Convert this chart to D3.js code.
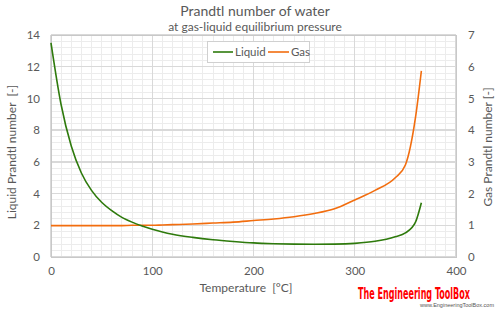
<!DOCTYPE html>
<html><head><meta charset="utf-8">
<script src="https://cdn.jsdelivr.net/npm/d3@7"></script>
<style>body{margin:0;background:#fff}svg{display:block}text{white-space:pre}</style>
</head><body>
<script>
const temps   = [0.01,10,20,30,40,50,60,70,80,90,100,110,120,140,160,180,200,220,240,260,280,300,320,340,350,360,365.8];
const liquidPr = [13.5,9.6,7.0,5.3,4.2,3.45,2.92,2.5,2.2,1.96,1.75,1.58,1.44,1.24,1.09,0.98,0.89,0.84,0.81,0.80,0.81,0.86,0.99,1.28,1.52,2.2,3.42];
const gasPr    = [0.99,0.99,0.99,0.99,0.99,0.99,0.99,0.99,1.0,1.0,1.0,1.01,1.02,1.04,1.07,1.1,1.15,1.2,1.27,1.37,1.52,1.8,2.1,2.5,2.9,4.4,5.87];
const xTicks = [0,100,200,300,400];
const yLeftTicks = [0,2,4,6,8,10,12,14];
const yRightTicks = [0,1,2,3,4,5,6,7];

const W=500,H=310;
const m={l:51,r:44,t:35,b:53};
const svg=d3.select("body").append("svg").attr("width",W).attr("height",H);
const x=d3.scaleLinear().domain([0,400]).range([m.l,W-m.r]);
const yL=d3.scaleLinear().domain([0,14]).range([H-m.b,m.t]);
const yR=d3.scaleLinear().domain([0,7]).range([H-m.b,m.t]);
const txt="#595959", font="Lato, 'Open Sans', sans-serif";

// minor grid
const g=svg.append("g");
g.selectAll(".vm").data(d3.range(0,401,10)).join("line")
 .attr("x1",d=>x(d)).attr("x2",d=>x(d)).attr("y1",yL(0)).attr("y2",yL(14))
 .attr("stroke","#ececec").attr("stroke-width",1).attr("shape-rendering","crispEdges");
g.selectAll(".hm").data(d3.range(0,14.01,0.4)).join("line")
 .attr("y1",d=>yL(d)).attr("y2",d=>yL(d)).attr("x1",x(0)).attr("x2",x(400))
 .attr("stroke","#ececec").attr("stroke-width",1).attr("shape-rendering","crispEdges");
// major grid
g.selectAll(".vM").data(xTicks).join("line")
 .attr("x1",d=>x(d)).attr("x2",d=>x(d)).attr("y1",yL(0)).attr("y2",yL(14))
 .attr("stroke","#d9d9d9").attr("stroke-width",1.3).attr("shape-rendering","crispEdges");
g.selectAll(".hM").data(yLeftTicks).join("line")
 .attr("y1",d=>yL(d)).attr("y2",d=>yL(d)).attr("x1",x(0)).attr("x2",x(400))
 .attr("stroke","#d9d9d9").attr("stroke-width",1.3).attr("shape-rendering","crispEdges");
// border
svg.append("rect").attr("x",x(0)).attr("y",yL(14)).attr("width",x(400)-x(0)).attr("height",yL(0)-yL(14))
 .attr("fill","none").attr("stroke","#c8c8c8").attr("stroke-width",1).attr("shape-rendering","crispEdges");

// axes
const axB=svg.append("g").attr("transform",`translate(0,${yL(0)})`).call(d3.axisBottom(x).tickValues(xTicks).tickSize(0).tickPadding(10));
const axL=svg.append("g").attr("transform",`translate(${x(0)},0)`).call(d3.axisLeft(yL).tickValues(yLeftTicks).tickSize(0).tickPadding(11).tickFormat(d3.format("d")));
const axR=svg.append("g").attr("transform",`translate(${x(400)},0)`).call(d3.axisRight(yR).tickValues(yRightTicks).tickSize(0).tickPadding(12).tickFormat(d3.format("d")));
[axB,axL,axR].forEach(a=>{a.select(".domain").remove();a.selectAll("text").attr("fill",txt).attr("font-size",11.5).attr("font-family",font);});

// lines
const dataL=temps.map((t,i)=>[t,liquidPr[i]]);
const dataG=temps.map((t,i)=>[t,gasPr[i]]);
svg.append("path").datum(dataG).attr("fill","none").attr("stroke","#F26D0E").attr("stroke-width",1.6)
 .attr("d",d3.line().x(d=>x(d[0])).y(d=>yR(d[1])).curve(d3.curveMonotoneX));
svg.append("path").datum(dataL).attr("fill","none").attr("stroke","#2E7A0C").attr("stroke-width",1.6)
 .attr("d",d3.line().x(d=>x(d[0])).y(d=>yL(d[1])).curve(d3.curveMonotoneX));

// titles
svg.append("text").attr("x",255).attr("y",16).attr("text-anchor","middle").attr("fill",txt)
 .attr("font-family",font).attr("font-size",14).text("Prandtl number of water");
svg.append("text").attr("x",255).attr("y",31).attr("text-anchor","middle").attr("fill",txt)
 .attr("font-family",font).attr("font-size",12).text("at gas-liquid equilibrium pressure");
svg.append("text").attr("x",246).attr("y",292).attr("text-anchor","middle").attr("fill",txt)
 .attr("font-family",font).attr("font-size",12).text("Temperature  [°C]");
svg.append("text").attr("transform","translate(16,152) rotate(-90)").attr("text-anchor","middle").attr("fill",txt)
 .attr("font-family",font).attr("font-size",12).text("Liquid Prandtl number  [-]");
svg.append("text").attr("transform","translate(492,147) rotate(-90)").attr("text-anchor","middle").attr("fill",txt)
 .attr("font-family",font).attr("font-size",12).text("Gas Prandtl number [-]");

// legend
const lg=svg.append("g");
lg.append("rect").attr("x",207.5).attr("y",41.5).attr("width",102).attr("height",21).attr("fill","#fff").attr("stroke","#d0d0d0");
lg.append("line").attr("x1",213).attr("x2",233).attr("y1",52).attr("y2",52).attr("stroke","#2E7A0C").attr("stroke-width",1.6);
lg.append("text").attr("x",235).attr("y",56).attr("fill",txt).attr("font-family",font).attr("font-size",11.5).text("Liquid");
lg.append("line").attr("x1",268).attr("x2",289).attr("y1",52).attr("y2",52).attr("stroke","#F26D0E").attr("stroke-width",1.6);
lg.append("text").attr("x",291).attr("y",56).attr("fill",txt).attr("font-family",font).attr("font-size",11.5).text("Gas");

// logo (scaled horizontally to the reference width)
function fitText(gx, gy, width, attrs, str){
  const grp=svg.append("g");
  const t=grp.append("text").attr("x",0).attr("y",0).text(str);
  Object.entries(attrs).forEach(([k,v])=>t.attr(k,v));
  const len=t.node().getComputedTextLength()||width;
  grp.attr("transform",`translate(${gx},${gy}) scale(${width/len},1)`);
}
fitText(358,299,112,{"fill":"#ff0000","font-weight":"bold","font-family":"'Liberation Sans Narrow','DejaVu Sans Condensed',sans-serif","font-size":15},"The Engineering ToolBox");
fitText(420,307,74,{"fill":"#555","font-family":"'Liberation Sans',sans-serif","font-size":5.5},"www.EngineeringToolBox.com");
</script>
</body></html>
